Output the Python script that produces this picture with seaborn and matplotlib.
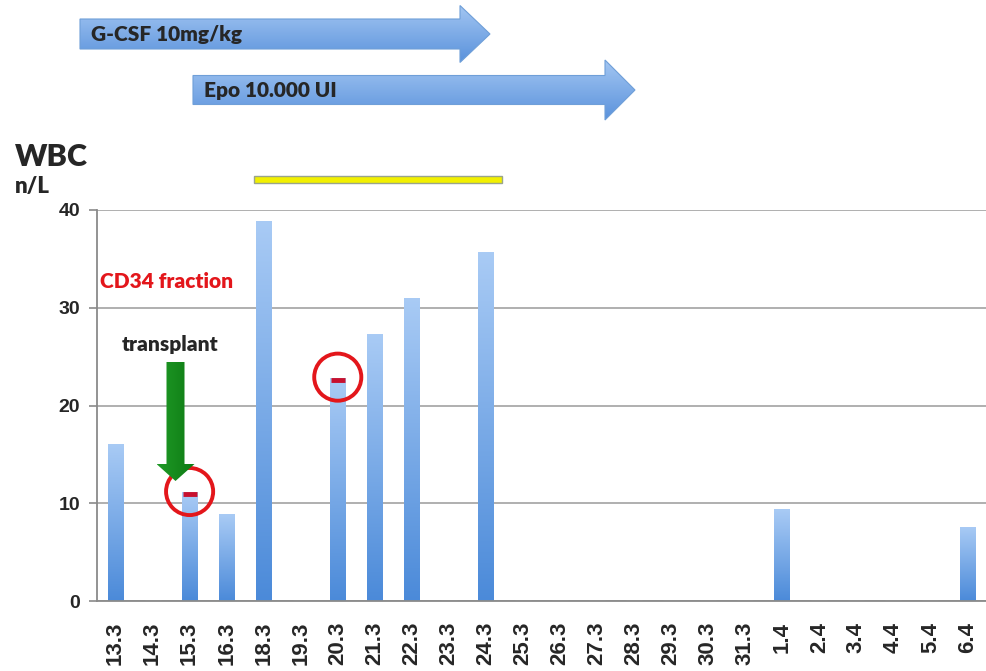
import numpy as np
import pandas as pd
import seaborn as sns
import matplotlib.pyplot as plt
from matplotlib.colors import LinearSegmentedColormap
from matplotlib.patches import Polygon, Rectangle

# Daten
dates = ['13.3', '14.3', '15.3', '16.3', '18.3', '19.3', '20.3', '21.3', '22.3',
         '23.3', '24.3', '25.3', '26.3', '27.3', '28.3', '29.3', '30.3', '31.3',
         '1.4', '2.4', '3.4', '4.4', '5.4', '6.4']
wbc = [16.1, 0, 11.1, 8.9, 38.9, 0, 22.8, 27.3, 31.0, 0, 35.7, 0, 0, 0, 0, 0, 0, 0,
       9.4, 0, 0, 0, 0, 7.6]
cd34_dates = ['15.3', '20.3']
cd34_values = [10.9, 22.6]
y_ticks = [0, 10, 20, 30, 40]

W, H = 986, 671

sns.set_style('white')
plt.rcParams['font.family'] = ['Liberation Sans', 'DejaVu Sans']
ann_font = ['Lato', 'DejaVu Sans']

bar_cmap = LinearSegmentedColormap.from_list('bar', ['#a9cbf5', '#4b8ad9'])
arrow_cmap = LinearSegmentedColormap.from_list('arr', ['#a3c6f2', '#5a92dc'])
green_cmap = LinearSegmentedColormap.from_list('grn', ['#1f9a26', '#0e7a14'])
grad = np.linspace(0, 1, 256).reshape(-1, 1)


def gradient_fill(ax, patch, extent, cmap, zorder):
    img = ax.imshow(grad, extent=extent, cmap=cmap, aspect='auto',
                    zorder=zorder, interpolation='bilinear')
    img.set_clip_path(patch)


fig = plt.figure(figsize=(W / 100, H / 100), dpi=100)
ax = fig.add_axes([97 / W, 1 - 601 / H, 1 - 97 / W, (601 - 210) / H])

df = pd.DataFrame({'date': dates, 'wbc': wbc})
sns.barplot(data=df, x='date', y='wbc', order=dates, width=0.43,
            color='#6ea3e6', ax=ax, zorder=2)

for p in ax.patches:
    if p.get_height() <= 0:
        continue
    x0, w, h = p.get_x(), p.get_width(), p.get_height()
    gradient_fill(ax, p, (x0, x0 + w, 0, h), bar_cmap, 2)
    p.set_facecolor('none')
    p.set_edgecolor('none')

# CD34 Markierungen
pos = [dates.index(d) for d in cd34_dates]
ax.plot(pos, cd34_values, ls='none', marker='_', ms=10, mew=3.5,
        color='#c8102e', zorder=4)
ax.scatter(pos, [v + 0.3 for v in cd34_values], s=1150, facecolors='none',
           edgecolors='#e3161b', linewidths=2.8, zorder=5, clip_on=False)

ax.set_ylim(0, 40)
ax.set_xlim(-0.5, 23.5 - 6 / 37.2)
ax.set_yticks(y_ticks, labels=[str(v) for v in y_ticks], fontweight='bold',
              fontsize=14)
ax.set_xticks(range(len(dates)), labels=dates, fontweight='bold', fontsize=16,
              rotation=90)
ax.yaxis.grid(True, color='#a9a9a9', lw=1.3, zorder=0)
ax.set_axisbelow(True)
ax.set_xlabel('')
ax.set_ylabel('')
for s in ['top', 'right']:
    ax.spines[s].set_visible(False)
for s in ['left', 'bottom']:
    ax.spines[s].set_color('#8a8a8a')
    ax.spines[s].set_linewidth(1.3)

ax.set_xticks(np.arange(-0.5, 24, 1), minor=True)
ax.tick_params(axis='x', which='major', length=0, pad=15)
ax.tick_params(axis='x', which='minor', length=10, direction='inout',
               color='#8a8a8a', width=1.2)
ax.tick_params(axis='y', length=6, color='#8a8a8a', width=1.2, pad=6, left=True)

# Overlay in Pixelkoordinaten
ov = fig.add_axes([0, 0, 1, 1], facecolor='none')
ov.set_xlim(0, W)
ov.set_ylim(H, 0)
ov.axis('off')


def block_arrow(x0, x1, yc, body_h, head_h, head_len, cmap, edge):
    xh = x1 - head_len
    pts = [(x0, yc - body_h / 2), (xh, yc - body_h / 2), (xh, yc - head_h / 2),
           (x1, yc), (xh, yc + head_h / 2), (xh, yc + body_h / 2),
           (x0, yc + body_h / 2)]
    poly = Polygon(pts, closed=True, facecolor='none', edgecolor=edge,
                   lw=0.8, zorder=3)
    ov.add_patch(poly)
    gradient_fill(ov, poly, (x0, x1, yc + head_h / 2, yc - head_h / 2), cmap, 2)


block_arrow(80, 490, 34, 30, 57, 30, arrow_cmap, '#6f9fd8')
block_arrow(193, 635, 90, 29, 60, 30, arrow_cmap, '#6f9fd8')
ov.text(91, 35, 'G-CSF 10mg/kg', fontsize=15, fontweight='heavy',
        family=ann_font, va='center', ha='left', zorder=4)
ov.text(204, 91, 'Epo 10.000 UI', fontsize=15, fontweight='heavy',
        family=ann_font, va='center', ha='left', zorder=4)

# gruener Pfeil (transplant) nach unten
gx, top, tip = 175.5, 362, 481
gp = Polygon([(gx - 9, top), (gx + 9, top), (gx + 9, 464), (gx + 19, 464),
              (gx, tip), (gx - 19, 464), (gx - 9, 464)], closed=True,
             facecolor='none', edgecolor='none', zorder=3)
ov.add_patch(gp)
ov.imshow(np.linspace(0, 1, 256).reshape(1, -1), extent=(gx - 19, gx + 19, tip, top),
          cmap=green_cmap, aspect='auto', zorder=3).set_clip_path(gp)

ov.add_patch(Rectangle((254, 175.5), 248, 7.5, facecolor='#f2f000',
                       edgecolor='#9aa58a', lw=1, zorder=3))

ov.text(15, 157, 'WBC', fontsize=22, fontweight='heavy', family=ann_font,
        va='center', ha='left')
ov.text(15, 186, 'n/L', fontsize=16, fontweight='heavy', family=ann_font,
        va='center', ha='left')
ov.text(100, 281, 'CD34 fraction', fontsize=15, fontweight='heavy',
        family=ann_font, color='#e3161b', va='center', ha='left')
ov.text(122, 344, 'transplant', fontsize=15, fontweight='heavy',
        family=ann_font, va='center', ha='left')

ov.set_xlim(0, W)
ov.set_ylim(H, 0)

fig.savefig('out.png', dpi=100)
